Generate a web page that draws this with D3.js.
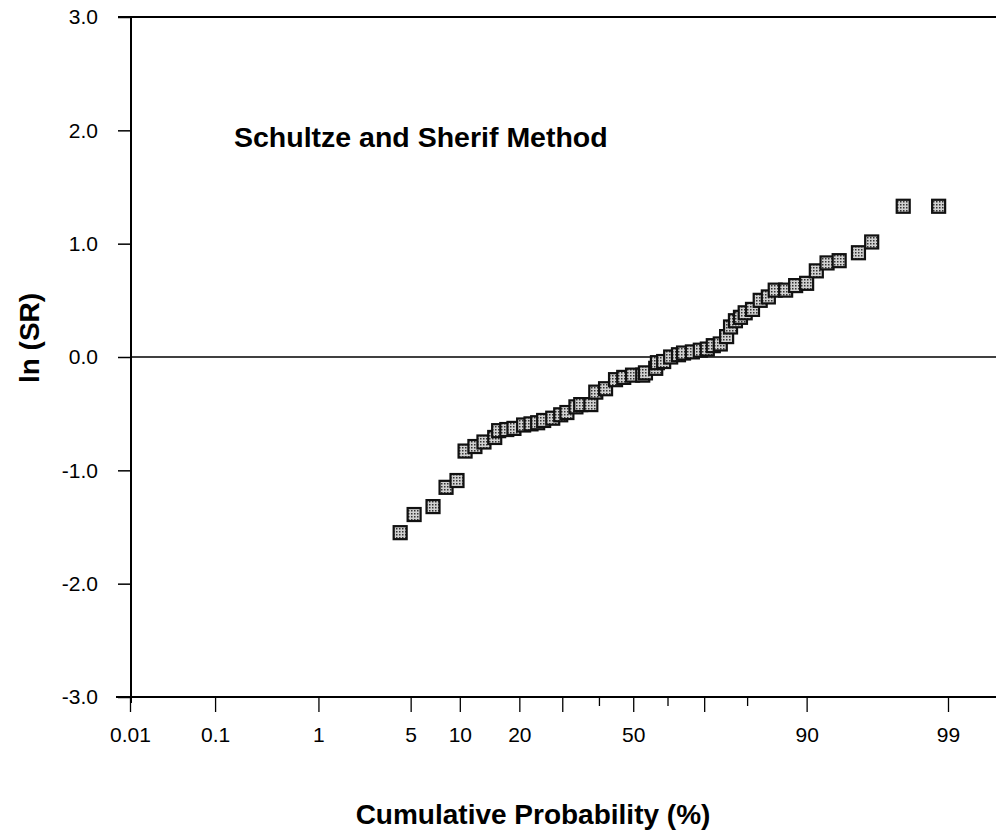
<!DOCTYPE html>
<html>
  <head>
    <meta charset="utf-8" />
    <title>ln(SR) probability plot</title>
    <script src="https://d3js.org/d3.v7.min.js"></script>
    <style>
      body { margin: 0; background: #fff; }
      text { font-family: "Liberation Sans", Arial, sans-serif; fill: #000; }
      .axis path, .axis line { stroke: #000; }
    </style>
  </head>
  <body>
    <svg id="chart"></svg>
    <script>
      // cumulative probability (%) and ln(SR)
      var cumProb = [4.25, 5.27, 6.95, 8.33, 9.64, 10.7, 12.1, 13.5, 15.3, 16.0,
                     17.5, 18.9, 20.9, 22.5, 24.0, 25.4, 27.6, 29.6, 31.2, 33.6,
                     34.9, 37.7, 39.1, 41.9, 44.8, 47.2, 49.8, 52.8, 53.6, 56.6,
                     57.1, 58.9, 60.9, 63.1, 64.5, 66.9, 69.0, 70.8, 72.3, 74.0,
                     75.5, 76.4, 77.5, 78.6, 79.6, 81.1, 82.6, 84.1, 85.3, 87.0,
                     88.5, 90.0, 91.2, 92.4, 93.6, 95.2, 96.1, 97.7, 98.8];
      var lnSR = [-1.55, -1.39, -1.32, -1.15, -1.09, -0.83, -0.79, -0.75, -0.71, -0.65,
                  -0.64, -0.63, -0.60, -0.59, -0.58, -0.56, -0.54, -0.51, -0.49, -0.44,
                  -0.42, -0.42, -0.31, -0.28, -0.20, -0.18, -0.16, -0.16, -0.14, -0.10,
                  -0.05, -0.04, 0.00, 0.02, 0.035, 0.045, 0.06, 0.07, 0.10, 0.115,
                  0.18, 0.265, 0.32, 0.35, 0.39, 0.42, 0.50, 0.53, 0.59, 0.59,
                  0.63, 0.65, 0.76, 0.83, 0.85, 0.92, 1.015, 1.33, 1.33];

      var probTicks = [0.01, 0.1, 1, 5, 10, 20, 50, 90, 99];
      var probLongMinor = [30, 70];
      var probShortMinor = [40, 60, 80];
      var yTicks = [-3, -2, -1, 0, 1, 2, 3];

      var width = 996, height = 836;

      // inverse normal cdf (Acklam)
      function probit(p) {
        var a = [-3.969683028665376e+01, 2.209460984245205e+02, -2.759285104469687e+02,
                 1.383577518672690e+02, -3.066479806614716e+01, 2.506628277459239e+00];
        var b = [-5.447609879822406e+01, 1.615858368580409e+02, -1.556989798598866e+02,
                 6.680131188771972e+01, -1.328068155288572e+01];
        var c = [-7.784894002430293e-03, -3.223964580411365e-01, -2.400758277161838e+00,
                 -2.549732539343734e+00, 4.374664141464968e+00, 2.938163982698783e+00];
        var d = [7.784695709041462e-03, 3.224671290700398e-01, 2.445134137142996e+00,
                 3.754408661907416e+00];
        var plow = 0.02425, q, r;
        if (p < plow) {
          q = Math.sqrt(-2 * Math.log(p));
          return (((((c[0]*q+c[1])*q+c[2])*q+c[3])*q+c[4])*q+c[5]) /
                 ((((d[0]*q+d[1])*q+d[2])*q+d[3])*q+1);
        }
        if (p <= 1 - plow) {
          q = p - 0.5; r = q * q;
          return (((((a[0]*r+a[1])*r+a[2])*r+a[3])*r+a[4])*r+a[5])*q /
                 (((((b[0]*r+b[1])*r+b[2])*r+b[3])*r+b[4])*r+1);
        }
        q = Math.sqrt(-2 * Math.log(1 - p));
        return -(((((c[0]*q+c[1])*q+c[2])*q+c[3])*q+c[4])*q+c[5]) /
                ((((d[0]*q+d[1])*q+d[2])*q+d[3])*q+1);
      }

      var svg = d3.select("#chart")
        .attr("width", width)
        .attr("height", height);

      // stippled grey fill for the markers
      var pat = svg.append("defs").append("pattern")
        .attr("id", "stipple")
        .attr("width", 3).attr("height", 3)
        .attr("patternUnits", "userSpaceOnUse");
      pat.append("rect").attr("width", 3).attr("height", 3).attr("fill", "#d0d0d0");
      pat.append("rect").attr("width", 1.5).attr("height", 1.5).attr("fill", "#333");

      // x is linear in the normal quantile
      var z = d3.scaleLinear()
        .domain([probit(0.0001), probit(0.99)])
        .range([130, 948]);
      var y = d3.scaleLinear()
        .domain([-3, 3])
        .range([697, 17]);

      function xp(p) { return z(probit(p / 100)); }

      // top frame line and zero line
      svg.append("line")
        .attr("x1", 118).attr("x2", width)
        .attr("y1", y(3)).attr("y2", y(3))
        .attr("stroke", "#000").attr("stroke-width", 1.8);
      svg.append("line")
        .attr("x1", z.range()[0]).attr("x2", width)
        .attr("y1", y(0)).attr("y2", y(0))
        .attr("stroke", "#000").attr("stroke-width", 1.4);

      // y axis
      var yAxis = d3.axisLeft(y)
        .tickValues(yTicks)
        .tickSize(13)
        .tickPadding(20)
        .tickFormat(function(d) { return d.toFixed(1); });
      var gy = svg.append("g")
        .attr("class", "axis")
        .attr("transform", "translate(131,0)")
        .call(yAxis);
      gy.select(".domain").remove();
      gy.selectAll("line").attr("stroke-width", 1.5);
      gy.selectAll("text").attr("font-size", 21);
      svg.append("line")
        .attr("x1", 131).attr("x2", 131)
        .attr("y1", y(3)).attr("y2", y(-3) + 6)
        .attr("stroke", "#000").attr("stroke-width", 2);

      // x axis: minor ticks first, then labelled ticks
      function probAxis(vals, size, labels) {
        return d3.axisBottom(z)
          .tickValues(vals.map(function(p) { return probit(p / 100); }))
          .tickSize(size)
          .tickPadding(15)
          .tickFormat(function(d, i) { return labels ? String(vals[i]) : ""; });
      }
      var gxs = svg.append("g").attr("class", "axis")
        .attr("transform", "translate(0," + y(-3) + ")")
        .call(probAxis(probShortMinor, 9, false));
      var gxl = svg.append("g").attr("class", "axis")
        .attr("transform", "translate(0," + y(-3) + ")")
        .call(probAxis(probLongMinor, 15, false));
      var gx = svg.append("g").attr("class", "axis")
        .attr("transform", "translate(0," + y(-3) + ")")
        .call(probAxis(probTicks, 15, true));
      [gxs, gxl, gx].forEach(function(g) {
        g.select(".domain").remove();
        g.selectAll("line").attr("stroke-width", 1.3);
      });
      gx.selectAll("text").attr("font-size", 21);
      svg.append("line")
        .attr("x1", 116).attr("x2", width)
        .attr("y1", y(-3)).attr("y2", y(-3))
        .attr("stroke", "#000").attr("stroke-width", 2);

      // points
      var pts = d3.zip(cumProb, lnSR);
      svg.append("g").selectAll("rect")
        .data(pts)
        .enter().append("rect")
        .attr("x", function(d) { return xp(d[0]) - 6.5; })
        .attr("y", function(d) { return y(d[1]) - 6.5; })
        .attr("width", 13)
        .attr("height", 13)
        .attr("fill", "url(#stipple)")
        .attr("stroke", "#111")
        .attr("stroke-width", 2.2);

      // titles
      svg.append("text")
        .attr("x", 234).attr("y", 147)
        .attr("font-size", 28.5).attr("font-weight", "bold")
        .text("Schultze and Sherif Method");
      svg.append("text")
        .attr("x", 533).attr("y", 824)
        .attr("text-anchor", "middle")
        .attr("font-size", 28).attr("font-weight", "bold")
        .text("Cumulative Probability (%)");
      svg.append("text")
        .attr("transform", "translate(39,338) rotate(-90)")
        .attr("text-anchor", "middle")
        .attr("font-size", 28).attr("font-weight", "bold")
        .text("ln (SR)");
    </script>
  </body>
</html>
